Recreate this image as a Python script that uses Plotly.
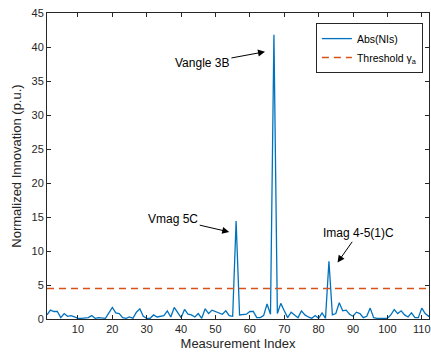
import plotly.graph_objects as go

# Measurement indices and normalized innovation values
idx = list(range(1, 114))
nis = [0.6, 1.3, 1.1, 1.1, 0.2, 0.8, 0.4, 0.5, 0.3, 0.1,
       0.1, 0.1, 0.2, 0.5, 0.1, 0.2, 0.2, 0.1, 0.9, 1.7,
       0.9, 0.8, 0.2, 0.1, 0.3, 0.1, 1.0, 1.5, 0.4, 0.1,
       0.1, 0.6, 0.3, 0.4, 0.5, 1.2, 0.3, 1.7, 1.0, 0.2,
       1.4, 0.7, 0.6, 0.3, 0.8, 0.1, 1.5, 0.8, 1.3, 1.1,
       0.9, 0.7, 1.2, 0.5, 0.4, 14.4, 0.6, 0.6, 0.7, 1.1,
       1.1, 0.2, 0.2, 0.5, 2.2, 0.7, 41.8, 0.8, 2.3, 1.2,
       0.2, 1.0, 0.6, 0.2, 1.2, 0.6, 0.3, 0.1, 0.5, 0.1,
       0.9, 0.1, 8.5, 0.6, 0.8, 2.4, 1.2, 1.3, 0.7, 0.4,
       1.0, 0.8, 0.2, 0.4, 1.6, 0.2, 0.1, 0.1, 0.1, 0.1,
       0.6, 1.4, 0.8, 1.2, 0.6, 0.3, 0.9, 0.2, 0.2, 1.6,
       0.8, 0.4, 0.9]
threshold = 4.47

x_ticks = [10, 20, 30, 40, 50, 60, 70, 80, 90, 100, 110]
y_ticks = [0, 5, 10, 15, 20, 25, 30, 35, 40, 45]

# annotations: (label, arrow head x, head y, text x, text y)
labels = ["Vangle 3B", "Vmag 5C", "Imag 4-5(1)C"]
head_x = [64.4, 54.0, 85.5]
head_y = [39.3, 12.8, 8.3]
text_x = [46.2, 37.7, 91.5]
text_y = [37.6, 14.7, 12.6]

FONT = "Liberation Sans, Arial, sans-serif"
AX = "#262626"

fig = go.Figure()
fig.add_trace(go.Scatter(x=idx, y=nis, mode="lines", name="Abs(NIs)",
                         line=dict(color="#0072BD", width=1.3)))
fig.add_trace(go.Scatter(x=[idx[0], idx[-1]], y=[threshold, threshold], mode="lines",
                         name="Threshold \u03b3<sub>a</sub>",
                         line=dict(color="#D95319", width=1.5, dash="7px,5px")))

for lab, hx, hy, tx, ty in zip(labels, head_x, head_y, text_x, text_y):
    fig.add_annotation(x=hx, y=hy, ax=tx, ay=ty, axref="x", ayref="y",
                       xref="x", yref="y", text=lab, showarrow=True,
                       arrowhead=2, arrowsize=1.4, arrowwidth=1.0, arrowcolor="black",
                       font=dict(family=FONT, size=12, color="black"))

fig.update_layout(
    width=431, height=357,
    margin=dict(l=47, r=0, t=13, b=38),
    paper_bgcolor="white", plot_bgcolor="white",
    font=dict(family=FONT, color=AX),
    showlegend=True,
    legend=dict(x=0.984, y=0.967, xanchor="right", yanchor="top",
                bgcolor="white", bordercolor=AX, borderwidth=1,
                font=dict(family=FONT, size=10.5, color="black"),
                tracegroupgap=0, itemwidth=30),
)
fig.update_xaxes(range=[1, 112.1], tickvals=x_ticks, ticks="inside", ticklen=4,
                 tickcolor=AX, showline=True, linecolor=AX, linewidth=1,
                 mirror="ticks", showgrid=False, zeroline=False,
                 ticklabeloverflow="allow",
                 tickfont=dict(size=11, color=AX),
                 title=dict(text="Measurement Index", font=dict(size=13, color=AX), standoff=4))
fig.update_yaxes(range=[0, 45], tickvals=y_ticks, ticks="inside", ticklen=4,
                 tickcolor=AX, showline=True, linecolor=AX, linewidth=1,
                 mirror="ticks", showgrid=False, zeroline=False,
                 tickfont=dict(size=11, color=AX),
                 title=dict(text="Normalized Innovation (p.u.)", font=dict(size=13, color=AX), standoff=6))

fig.write_html("out.html")
